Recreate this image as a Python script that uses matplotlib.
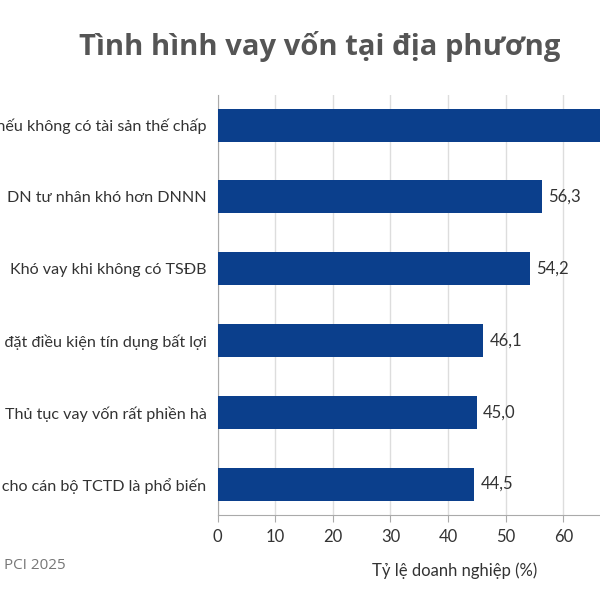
import matplotlib.pyplot as plt

labels = [
    'Chi phí không chính thức cho cán bộ TCTD là phổ biến',
    'Thủ tục vay vốn rất phiền hà',
    'Ngân hàng đặt điều kiện tín dụng bất lợi',
    'Khó vay khi không có TSĐB',
    'DN tư nhân khó hơn DNNN',
    'Khó tiếp cận vốn nếu không có tài sản thế chấp',
]
values = [44.5, 45.0, 46.1, 54.2, 56.3, 68.4]
xticks = [0, 10, 20, 30, 40, 50, 60]

bar_color = '#0b3f8c'
text_color = '#333333'

fig = plt.figure(figsize=(6, 6), dpi=100)
fig.patch.set_facecolor('white')
ax = fig.add_axes([0.3628, 0.1417, 0.72, 0.70])

y = range(len(labels))
ax.barh(y, values, height=0.46, color=bar_color, zorder=3)
for yi, v in zip(y, values):
    ax.text(v + 1.1, yi, f'{v:.1f}'.replace('.', ','), va='center', ha='left',
            fontsize=12, color=text_color, family='Lato')

ax.set_xlim(0, 75)
ax.set_ylim(-0.43, 5.42)
ax.set_yticks(list(y))
ax.set_yticklabels(labels, fontsize=11.6, color=text_color, family='Lato')
ax.set_xticks(xticks)
ax.set_xticklabels([str(t) for t in xticks], fontsize=12, color=text_color, family='Lato')
ax.set_xticks([70], minor=True)
ax.tick_params(axis='y', length=0, pad=8)
ax.tick_params(axis='x', which='both', length=5, color='#aaaaaa', pad=5)
ax.grid(axis='x', which='both', color='#dddddd', linewidth=1, zorder=0)
for s in ['top', 'right']:
    ax.spines[s].set_visible(False)
ax.spines['left'].set_color('#aaaaaa')
ax.spines['bottom'].set_color('#aaaaaa')
ax.set_xlabel('Tỷ lệ doanh nghiệp (%)', fontsize=12, color=text_color, family='Lato')
ax.xaxis.set_label_coords(0.549, -0.112)

fig.text(0.533, 0.922, 'Tình hình vay vốn tại địa phương', ha='center', va='center',
         fontsize=21, fontweight='bold', color='#555555', family='Open Sans')
fig.text(0.007, 0.057, 'PCI 2025', ha='left', va='center', fontsize=11, color='#777777',
         family='Open Sans')

fig.savefig('out.png', dpi=100)
